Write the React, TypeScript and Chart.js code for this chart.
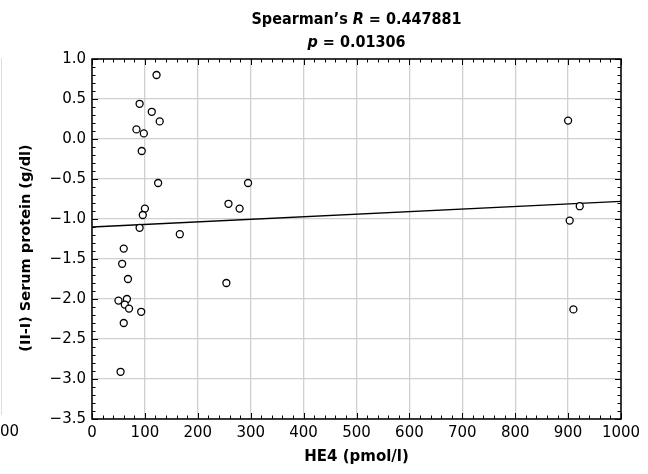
import React, { useEffect, useRef } from "react";
import { Chart, registerables } from "chart.js";

Chart.register(...registerables);

// HE4 (pmol/l) values
const heValues = [122, 90, 113, 128, 84, 98, 94, 125, 258, 279, 295, 100, 96, 90, 166, 60, 57, 68, 254, 50, 66, 62, 70, 93, 60, 54, 900, 922, 903, 910];
// (II-I) Serum protein (g/dl)
const proteinValues = [0.80, 0.44, 0.34, 0.22, 0.12, 0.07, -0.15, -0.55, -0.81, -0.87, -0.55, -0.87, -0.95, -1.11, -1.19, -1.37, -1.56, -1.75, -1.80, -2.02, -2.00, -2.07, -2.12, -2.16, -2.30, -2.91, 0.23, -0.84, -1.02, -2.13];
// regression line end points
const fitX = [0, 1000];
const fitY = [-1.10, -0.78];

const xMin = 0, xMax = 1000, xStep = 100, xMinor = 20;
const yMin = -3.5, yMax = 1.0, yStep = 0.5, yMinor = 0.1;

const titleLine1 = ["Spearman\u2019s ", "R", " = 0.447881"];
const titleLine2 = ["p", " = 0.01306"];
const xTitle = "HE4 (pmol/l)";
const yTitle = "(II-I) Serum protein (g/dl)";
const neighbourLabel = "00";

const FONT = '"DejaVu Sans", sans-serif';
const TFONT = '"DejaVu Sans Condensed", "DejaVu Sans", sans-serif';

const decorPlugin = {
  id: "decor",
  afterDatasetsDraw(chart: any) {
    const { ctx, chartArea: a, scales } = chart;
    const xs = scales.x, ys = scales.y;
    ctx.save();
    ctx.strokeStyle = "#000";
    ctx.lineWidth = 1;
    ctx.beginPath();
    for (let i = 0; i <= Math.round((xMax - xMin) / xMinor); i++) {
      const v = xMin + i * xMinor;
      const major = Math.abs(v % xStep) < 1e-6;
      const len = major ? 6 : 3.5;
      const px = Math.round(xs.getPixelForValue(v)) + 0.5;
      ctx.moveTo(px, a.bottom);
      ctx.lineTo(px, a.bottom - len);
      ctx.moveTo(px, a.top);
      ctx.lineTo(px, a.top + len);
    }
    for (let i = 0; i <= Math.round((yMax - yMin) / yMinor); i++) {
      const v = yMin + i * yMinor;
      const r = Math.abs(Math.round(v / yStep) * yStep - v) < 1e-6;
      const len = r ? 6 : 3.5;
      const py = Math.round(ys.getPixelForValue(v)) + 0.5;
      ctx.moveTo(a.left, py);
      ctx.lineTo(a.left + len, py);
      ctx.moveTo(a.right, py);
      ctx.lineTo(a.right - len, py);
    }
    ctx.stroke();
    ctx.lineWidth = 1.5;
    ctx.strokeRect(a.left, a.top, a.right - a.left, a.bottom - a.top);
    ctx.restore();
  },
  afterDraw(chart: any) {
    const { ctx, chartArea: a } = chart;
    ctx.save();
    ctx.fillStyle = "#000";
    ctx.textBaseline = "alphabetic";
    const cx = (a.left + a.right) / 2;
    const drawMixed = (parts: string[], italicIdx: number[], y: number) => {
      const normal = `bold 16px ${TFONT}`;
      const ital = `italic bold 16px ${TFONT}`;
      let w = 0;
      parts.forEach((p, i) => {
        ctx.font = italicIdx.includes(i) ? ital : normal;
        w += ctx.measureText(p).width;
      });
      let x = cx - w / 2;
      ctx.textAlign = "left";
      parts.forEach((p, i) => {
        ctx.font = italicIdx.includes(i) ? ital : normal;
        ctx.fillText(p, x, y);
        x += ctx.measureText(p).width;
      });
    };
    drawMixed(titleLine1, [1], 24);
    drawMixed(titleLine2, [0], 47);
    ctx.font = `bold 15px ${FONT}`;
    ctx.textAlign = "center";
    ctx.textBaseline = "middle";
    ctx.fillText(xTitle, cx, 457);
    ctx.save();
    ctx.translate(26, 248);
    ctx.rotate(-Math.PI / 2);
    ctx.font = `bold 14.5px ${FONT}`;
    ctx.fillText(yTitle, 0, 0);
    ctx.restore();
    ctx.strokeStyle = "#dedede";
    ctx.lineWidth = 1;
    ctx.beginPath();
    ctx.moveTo(1.5, 58);
    ctx.lineTo(1.5, 415);
    ctx.stroke();
    ctx.font = `15px ${FONT}`;
    ctx.textAlign = "right";
    ctx.fillStyle = "#000";
    ctx.fillText(neighbourLabel, 19, 432);
    ctx.restore();
  },
};

export default function App() {
  const ref = useRef<HTMLCanvasElement>(null);
  useEffect(() => {
    if (!ref.current) return;
    const points = heValues.map((x, i) => ({ x, y: proteinValues[i] }));
    const fit = fitX.map((x, i) => ({ x, y: fitY[i] }));
    const chart = new Chart(ref.current, {
      type: "scatter",
      data: {
        datasets: [
          {
            data: fit,
            showLine: true,
            borderColor: "#000",
            borderWidth: 1.3,
            pointRadius: 0,
            order: 2,
          } as any,
          {
            data: points,
            pointStyle: "circle",
            pointRadius: 3.5,
            borderWidth: 1.3,
            borderColor: "#000",
            backgroundColor: "#fff",
            order: 1,
          },
        ],
      },
      options: {
        animation: false,
        responsive: false,
        devicePixelRatio: 1,
        layout: { padding: { left: 0, right: 27, top: 59, bottom: 0 } },
        plugins: { legend: { display: false }, tooltip: { enabled: false }, title: { display: false } },
        scales: {
          x: {
            type: "linear",
            min: xMin,
            max: xMax,
            afterFit: (s: any) => { s.height = 55; },
            ticks: {
              stepSize: xStep,
              color: "#000",
              padding: 5,
              font: { family: FONT, size: 15 },
              maxRotation: 0,
              callback: (v: any) => String(v),
            },
            grid: { color: "#d0d0d0", lineWidth: 1.3, drawTicks: false },
            border: { display: false },
          },
          y: {
            type: "linear",
            min: yMin,
            max: yMax,
            afterFit: (s: any) => { s.width = 92; },
            ticks: {
              stepSize: yStep,
              color: "#000",
              padding: 6,
              font: { family: FONT, size: 15 },
              callback: (v: any) => Number(v).toFixed(1).replace("-", "\u2212"),
            },
            grid: { color: "#d0d0d0", lineWidth: 1.3, drawTicks: false },
            border: { display: false },
          },
        },
      },
      plugins: [decorPlugin],
    });
    return () => chart.destroy();
  }, []);
  return (
    <div style={{ position: "fixed", left: 0, top: 0, width: 648, height: 474, background: "#fff" }}>
      <canvas ref={ref} width={648} height={474} style={{ width: 648, height: 474, display: "block" }} />
    </div>
  );
}
